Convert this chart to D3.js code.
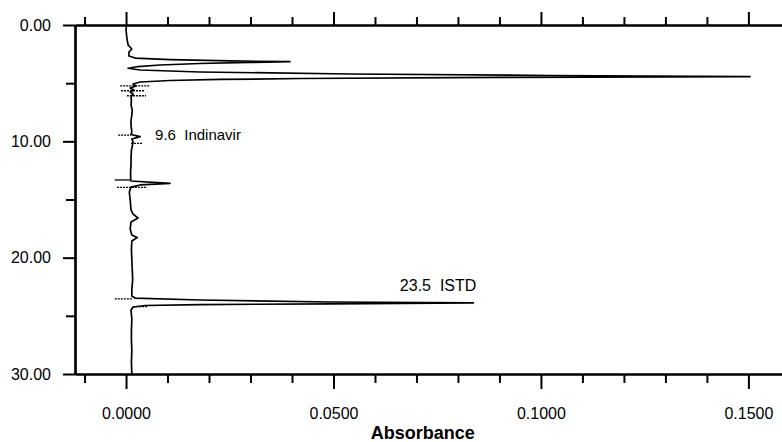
<!DOCTYPE html>
<html>
<head>
<meta charset="utf-8">
<script src="https://cdn.jsdelivr.net/npm/d3@7"></script>
<style>
  body { margin: 0; background: #fff; }
  svg { display: block; font-family: "Liberation Sans", Arial, sans-serif; }
  .peakLabel { white-space: pre; }
</style>
</head>
<body>
<div id="chart"></div>
<script>
// chromatogram trace: retention time (min) and absorbance
let times = [0.00, 0.43, 1.12, 1.72, 2.06, 2.32, 2.66, 2.84, 2.97, 3.09, 3.15, 3.22, 3.31, 3.44, 3.57, 3.72,
    3.87, 4.04, 4.21, 4.34, 4.43, 4.50, 4.60, 4.68, 4.77, 4.90, 5.07, 5.24, 5.42, 5.59, 5.76, 5.93, 6.19,
    6.55, 6.88, 7.30, 7.74, 8.20, 8.60, 9.20, 9.41, 9.59, 9.80, 10.07, 10.75, 11.40, 12.03, 12.60, 13.15,
    13.41, 13.61, 13.75, 13.93, 14.36, 15.04, 15.90, 16.25, 16.59, 16.94, 17.54, 18.05, 18.27, 18.57,
    19.30, 20.20, 21.00, 21.92, 22.70, 23.30, 23.47, 23.64, 23.81, 23.89, 23.97, 24.03, 24.11, 24.24,
    24.50, 25.30, 26.22, 27.10, 27.94, 29.00, 30.00];
let absorbance = [0.0001, 0.0000, 0.0002, 0.0005, 0.0014, 0.0007, 0.0007, 0.0022, 0.0106, 0.0251, 0.0395,
    0.0299, 0.0178, 0.0082, 0.0029, 0.0005, 0.0034, 0.0178, 0.0540, 0.1022, 0.1504, 0.0902, 0.0419, 0.0227,
    0.0106, 0.0034, 0.0017, 0.0024, 0.0010, 0.0019, 0.0010, 0.0017, 0.0012, 0.0013, 0.0012, 0.0015, 0.0014,
    0.0012, 0.0012, 0.0014, 0.0012, 0.0034, 0.0014, 0.0017, 0.0013, 0.0012, 0.0012, 0.0011, 0.0011,
    0.0012, 0.0106, 0.0034, 0.0012, 0.0008, 0.0010, 0.0012, 0.0017, 0.0029, 0.0012, 0.0010, 0.0014,
    0.0027, 0.0014, 0.0013, 0.0014, 0.0015, 0.0016, 0.0014, 0.0014, 0.0022, 0.0178, 0.0492, 0.0837,
    0.0492, 0.0178, 0.0046, 0.0017, 0.0012, 0.0014, 0.0013, 0.0013, 0.0014, 0.0013, 0.0014];

// integration marks drawn across the trace
let markTimes = [5.24, 5.65, 6.08, 9.46, 10.17, 13.32, 13.95, 23.55, 24.20];
let markFrom = [-0.0014, -0.0012, 0.0002, -0.0019, 0.0012, -0.0027, -0.0022, -0.0027, 0.0017];
let markTo = [0.0058, 0.0046, 0.0048, 0.0012, 0.0041, 0.0012, 0.0051, 0.0017, 0.0053];

// peak annotations
let peakNames = ["9.6  Indinavir", "23.5  ISTD"];

// tick values
let xMajorTicks = [0, 0.05, 0.10, 0.15];
let xMinorTicks = [-0.01, 0.01, 0.02, 0.03, 0.04, 0.06, 0.07, 0.08, 0.09, 0.11, 0.12, 0.13, 0.14];
let yMajorTicks = [0, 10, 20, 30];
let yMinorTicks = [5, 15, 25];

let svgWidth = 782;
let svgHeight = 442;

let margin = { top: 25, right: 0, bottom: 68, left: 75 };
let width = svgWidth - margin.left - margin.right;
let height = svgHeight - margin.top - margin.bottom;

var svg = d3.select("#chart")
    .append("svg")
    .attr("width", svgWidth)
    .attr("height", svgHeight);

var chartGroup = svg.append("g")
    .attr("transform", `translate(${margin.left}, ${margin.top})`);

// scales: absorbance across, time down
var xScale = d3.scaleLinear()
    .domain([-0.0123, 0.1581])
    .range([0, width]);

var yScale = d3.scaleLinear()
    .domain([0, 30])
    .range([0, height]);

// axes
function styleAxis(g) {
    g.selectAll("line").attr("stroke", "#000").attr("stroke-width", 2);
    g.selectAll("path").attr("stroke", "#000").attr("stroke-width", 2.2);
    g.selectAll("text").attr("fill", "#000").attr("font-size", "16px");
}

chartGroup.append("g")
    .attr("transform", `translate(0, ${height})`)
    .call(d3.axisBottom(xScale).tickValues(xMinorTicks).tickSize(9).tickSizeOuter(0).tickFormat(""))
    .call(styleAxis);

chartGroup.append("g")
    .attr("transform", `translate(0, ${height})`)
    .call(d3.axisBottom(xScale).tickValues(xMajorTicks).tickSize(15).tickSizeOuter(0)
        .tickPadding(19).tickFormat(d3.format(".4f")))
    .call(styleAxis);

chartGroup.append("g")
    .call(d3.axisTop(xScale).tickValues(xMinorTicks).tickSize(8).tickSizeOuter(0).tickFormat(""))
    .call(styleAxis);

chartGroup.append("g")
    .call(d3.axisTop(xScale).tickValues(xMajorTicks).tickSize(13).tickSizeOuter(0).tickFormat(""))
    .call(styleAxis);

chartGroup.append("g")
    .call(d3.axisLeft(yScale).tickValues(yMinorTicks).tickSize(9).tickSizeOuter(0).tickFormat(""))
    .call(styleAxis);

chartGroup.append("g")
    .call(d3.axisLeft(yScale).tickValues(yMajorTicks).tickSize(12).tickSizeOuter(0)
        .tickPadding(12).tickFormat(d3.format(".2f")))
    .call(styleAxis);

// trace
var trace = times.map((t, i) => ({ t: t, a: absorbance[i] }));

var line = d3.line()
    .x(d => xScale(d.a))
    .y(d => yScale(d.t));

chartGroup.append("path")
    .datum(trace)
    .attr("d", line)
    .attr("fill", "none")
    .attr("stroke", "#000")
    .attr("stroke-width", 1.7)
    .attr("stroke-linejoin", "round");

// integration marks
chartGroup.selectAll(".mark")
    .data(markTimes)
    .enter()
    .append("line")
    .attr("class", "mark")
    .attr("x1", (d, i) => xScale(markFrom[i]))
    .attr("x2", (d, i) => xScale(markTo[i]))
    .attr("y1", d => yScale(d))
    .attr("y2", d => yScale(d))
    .attr("stroke", "#000")
    .attr("stroke-width", 1.3)
    .attr("stroke-dasharray", (d, i) => i === 5 ? null : "2,1");

// peak labels
chartGroup.append("text")
    .attr("class", "peakLabel")
    .attr("x", xScale(0.0070))
    .attr("y", yScale(9.89))
    .attr("font-size", "15px")
    .text(peakNames[0]);

chartGroup.append("text")
    .attr("class", "peakLabel")
    .attr("x", xScale(0.0660))
    .attr("y", yScale(22.84))
    .attr("font-size", "16px")
    .text(peakNames[1]);

// axis title
chartGroup.append("text")
    .attr("x", xScale(0.0715))
    .attr("y", height + 65)
    .attr("text-anchor", "middle")
    .attr("font-size", "18px")
    .attr("font-weight", "bold")
    .text("Absorbance");
</script>
</body>
</html>
